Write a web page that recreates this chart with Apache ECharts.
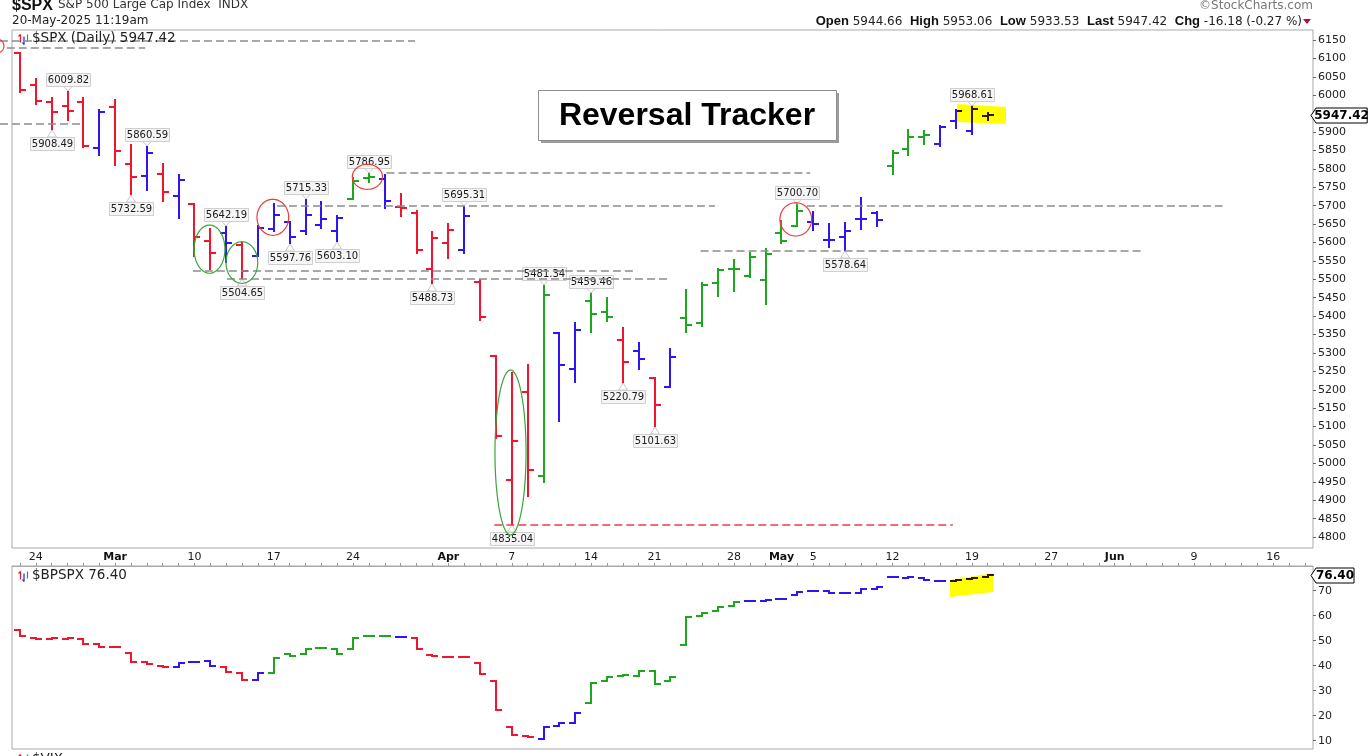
<!DOCTYPE html>
<html>
<head>
<meta charset="utf-8">
<title>Reversal Tracker</title>
<script src="https://cdn.jsdelivr.net/npm/echarts@6/dist/echarts.min.js"></script>
<style>
html,body{margin:0;padding:0;background:#fff;}
#chart{width:1371px;height:756px;}
</style>
</head>
<body>
<div id="chart"></div>
<script>
// ---------------- data ----------------
const dates = [
 '2025-02-21','2025-02-24','2025-02-25','2025-02-26','2025-02-27','2025-02-28',
 '2025-03-03','2025-03-04','2025-03-05','2025-03-06','2025-03-07',
 '2025-03-10','2025-03-11','2025-03-12','2025-03-13','2025-03-14',
 '2025-03-17','2025-03-18','2025-03-19','2025-03-20','2025-03-21',
 '2025-03-24','2025-03-25','2025-03-26','2025-03-27','2025-03-28','2025-03-31',
 '2025-04-01','2025-04-02','2025-04-03','2025-04-04',
 '2025-04-07','2025-04-08','2025-04-09','2025-04-10','2025-04-11',
 '2025-04-14','2025-04-15','2025-04-16','2025-04-17',
 '2025-04-21','2025-04-22','2025-04-23','2025-04-24','2025-04-25',
 '2025-04-28','2025-04-29','2025-04-30','2025-05-01','2025-05-02',
 '2025-05-05','2025-05-06','2025-05-07','2025-05-08','2025-05-09',
 '2025-05-12','2025-05-13','2025-05-14','2025-05-15','2025-05-16',
 '2025-05-19','2025-05-20','2025-05-21','2025-05-22','2025-05-23',
 '2025-05-27','2025-05-28','2025-05-29','2025-05-30',
 '2025-06-02','2025-06-03','2025-06-04','2025-06-05','2025-06-06',
 '2025-06-09','2025-06-10','2025-06-11','2025-06-12','2025-06-13',
 '2025-06-16','2025-06-17','2025-06-18'
];
const tickDates  = ['2025-02-24','2025-03-03','2025-03-10','2025-03-17','2025-03-24','2025-04-01','2025-04-07','2025-04-14','2025-04-21','2025-04-28','2025-05-01','2025-05-05','2025-05-12','2025-05-19','2025-05-27','2025-06-02','2025-06-09','2025-06-16'];
const tickLabels = ['24','Mar','10','17','24','Apr','7','14','21','28','May','5','12','19','27','Jun','9','16'];

const spxTicksY = [4800,4850,4900,4950,5000,5050,5100,5150,5200,5250,5300,5350,5400,5450,5500,5550,5600,5650,5700,5750,5800,5850,5900,6000,6050,6100,6150];
const bpTicksY = [10,20,30,40,50,60,70];

const spxOpen  = [6114.10,6026.69,5982.73,5970.87,5981.88,5856.74,5968.33,5811.98,5781.44,5785.87,5726.01,5705.37,5603.65,5624.84,5594.45,5563.85,5635.60,5654.53,5632.37,5646.92,5630.73,5718.08,5775.59,5771.66,5695.64,5679.88,5527.91,5597.53,5580.76,5492.74,5292.14,4953.79,5193.57,4965.28,5353.15,5255.56,5441.96,5411.99,5335.75,5305.45,5232.94,5207.67,5395.92,5381.38,5489.73,5529.22,5508.87,5499.44,5625.14,5645.94,5655.32,5606.91,5614.60,5663.94,5679.50,5807.20,5854.66,5886.55,5868.00,5930.41,5902.88,5944.66];
const spxHigh  = [6114.82,6043.65,5992.65,6009.82,5993.69,5959.40,5986.09,5865.08,5860.59,5812.08,5783.01,5705.37,5636.30,5642.19,5597.78,5645.27,5703.52,5654.53,5715.33,5711.15,5670.84,5775.14,5786.95,5783.62,5732.28,5685.89,5627.56,5650.57,5695.31,5499.53,5292.14,5246.59,5267.47,5481.34,5353.15,5381.46,5459.46,5450.41,5367.24,5328.31,5232.94,5309.60,5469.69,5489.40,5528.11,5553.66,5571.95,5581.84,5658.91,5700.70,5683.37,5649.62,5653.20,5720.10,5683.60,5847.36,5906.63,5904.08,5917.00,5958.62,5968.61,5953.06];
const spxLow   = [6008.56,5977.43,5908.49,5932.69,5858.78,5837.66,5810.91,5732.59,5742.35,5711.64,5666.29,5564.02,5528.41,5546.09,5504.65,5563.85,5631.12,5597.76,5622.20,5640.47,5603.10,5718.08,5764.05,5694.41,5670.94,5572.42,5488.73,5558.52,5571.48,5390.83,5069.90,4835.04,4910.42,4948.43,5115.27,5220.77,5358.02,5386.44,5220.79,5255.58,5101.63,5207.67,5356.16,5371.96,5455.86,5468.64,5505.70,5433.24,5597.35,5644.64,5634.48,5587.62,5578.64,5635.95,5645.02,5786.08,5836.35,5868.08,5862.00,5909.93,5895.69,5933.53];
const spxClose = [6013.13,5983.25,5955.25,5956.06,5861.57,5954.50,5849.72,5778.15,5842.63,5738.52,5770.20,5614.56,5572.07,5599.30,5521.52,5638.94,5675.12,5614.66,5675.29,5662.89,5667.56,5767.57,5776.65,5712.20,5693.31,5580.94,5611.85,5633.07,5670.97,5396.52,5074.08,5062.25,4982.77,5456.90,5268.05,5363.36,5405.97,5396.63,5275.70,5282.70,5158.20,5287.76,5375.86,5484.77,5525.21,5528.75,5560.83,5569.06,5604.14,5686.67,5650.38,5606.91,5631.28,5663.94,5659.91,5844.19,5886.55,5892.58,5914.00,5958.38,5963.60,5947.42];
const spxColor = 'rrrrrbrrbrbrrbrbbbbbbggbrrrrbrrrrgbbggrbrbggggggggbbbbbgggbbbb'.split('');

const bpOpen  = [54.3,51.1,50.6,50.8,50.7,48.5,47.6,45.2,41.6,39.9,39.5,41.5,42.0,39.6,37.2,34.3,37.2,44.6,44.7,46.9,46.8,46.8,51.9,51.9,51.5,51.1,44.4,43.3,43.3,41.0,34.0,15.6,11.9,10.6,15.9,17.2,25.2,34.0,35.9,35.9,38.0,34.0,48.3,59.9,62.0,63.9,66.0,66.0,66.6,68.3,70.0,69.9,69.0,69.2,70.7,75.3,75.0,75.0,73.9,73.9,74.6,75.3];
const bpClose = [51.9,50.7,50.9,51.1,48.5,47.6,47.3,41.6,40.7,39.5,41.2,41.6,39.9,37.4,34.3,37.2,43.0,43.9,46.7,46.9,44.7,51.0,51.9,52.0,51.4,46.8,43.8,43.3,43.3,36.7,22.3,12.3,11.4,15.4,17.0,21.0,33.0,35.6,36.4,38.0,32.7,35.6,59.4,61.2,63.6,65.6,66.0,66.3,66.6,69.6,70.0,69.2,69.0,70.5,71.4,75.6,75.3,74.3,73.9,74.3,75.2,76.40];
const bpColor = 'rrrrrrrrrrbbbrrbggggggggbrrrrrrrrbbbggggggggggbbbbbbbbbbbbbbbb'.split('');

const swingHighDates  = ['2025-02-26','2025-03-05','2025-03-12','2025-03-19','2025-03-25','2025-04-02','2025-04-09','2025-04-14','2025-05-02','2025-05-19'];
const swingHighValues = [6009.82,5860.59,5642.19,5715.33,5786.95,5695.31,5481.34,5459.46,5700.70,5968.61];
const swingLowDates   = ['2025-02-25','2025-03-04','2025-03-13','2025-03-18','2025-03-21','2025-03-31','2025-04-07','2025-04-16','2025-04-21','2025-05-07'];
const swingLowValues  = [5908.49,5732.59,5504.65,5597.76,5603.10,5488.73,4835.04,5220.79,5101.63,5578.64];

// annotation levels (category index from, to, price, kind)
const dashLines = [
  [-1.26, 24.9, 6147.4, 'g'],
  [-0.83, 7.9, 6127.5, 'g'],
  [-1.26, 3.9, 5921.0, 'g'],
  [23.1, 49.8, 5789.0, 'g'],
  [16.2, 43.8, 5700.0, 'g'],
  [49.6, 75.8, 5700.0, 'g'],
  [42.9, 70.8, 5577.0, 'g'],
  [10.9, 38.9, 5523.0, 'g'],
  [13.05, 40.8, 5501.0, 'g'],
  [29.9, 58.8, 4834.0, 'r']
];
// ellipses: center index, center price, half width (index), half height (price), kind
const ellipses = [
  [-1.45, 6133.7, 0.44, 19.0, 'r'],
  [15.94, 5668.5, 1.0, 48.9, 'r'],
  [21.9, 5778.5, 0.95, 34.0, 'r'],
  [48.9, 5662.9, 1.0, 45.2, 'r'],
  [11.95, 5582.0, 0.97, 65.5, 'g'],
  [13.99, 5545.7, 1.0, 56.5, 'g'],
  [30.92, 5029.7, 0.98, 224.0, 'g']
];
// highlighter strokes: top-left, top-right, bottom-right, bottom-left (index, value)
const spxHighlight = [[59.06, 5976.2], [62.15, 5968.0], [62.15, 5921.9], [59.06, 5927.3]];
const bpHighlight  = [[58.62, 74.3], [61.33, 77.1], [61.33, 69.5], [58.62, 67.5]];

// ---------------- styles ----------------
const COLORS = { r: '#f2142c', b: '#2e16f0', g: '#1ea61e' };
const FONT = '"DejaVu Sans", Verdana, sans-serif';
const ARIAL = '"Liberation Sans", Arial, sans-serif';

const chart = echarts.init(document.getElementById('chart'), null, { renderer: 'canvas' });

function toPx(api, k, v) {
  const base = api.coord([0, v]);
  const bw = api.size([1, 0])[0];
  return [base[0] + k * bw, base[1]];
}
// colour of a stroke seen through a yellow highlighter (multiply)
function underYellow(hex) {
  const r = parseInt(hex.slice(1, 3), 16), g = parseInt(hex.slice(3, 5), 16);
  return 'rgb(' + r + ',' + g + ',0)';
}
function bandAt(hp, x) {
  if (x < hp[0][0] || x > hp[1][0]) return null;
  const t = (x - hp[0][0]) / (hp[1][0] - hp[0][0]);
  return [hp[0][1] + t * (hp[1][1] - hp[0][1]), hp[3][1] + t * (hp[2][1] - hp[3][1])];
}
function overlayLines(hp, segs, color) {
  const out = [];
  segs.forEach(s => {
    if (s.x1 === s.x2) {
      const b = bandAt(hp, s.x1);
      if (!b) return;
      const ya = Math.max(Math.min(s.y1, s.y2), b[0]);
      const yb = Math.min(Math.max(s.y1, s.y2), b[1]);
      if (yb > ya) out.push({ x1: s.x1, y1: ya, x2: s.x1, y2: yb });
    } else {
      const xa = Math.max(Math.min(s.x1, s.x2), hp[0][0]);
      const xb = Math.min(Math.max(s.x1, s.x2), hp[1][0]);
      if (xb <= xa) return;
      const b = bandAt(hp, (xa + xb) / 2);
      if (b && s.y1 >= b[0] && s.y1 <= b[1]) out.push({ x1: xa, y1: s.y1, x2: xb, y2: s.y1 });
    }
  });
  return out.map(sh => ({ type: 'line', shape: sh, style: { stroke: color, lineWidth: 2 } }));
}

function barGroup(api, x, yTop, yBot, yo, yc, color, hlPts) {
  const w = 6;
  const segs = [
    { x1: x, y1: yTop - 1, x2: x, y2: yBot + 1 },
    { x1: x - w, y1: yo, x2: x, y2: yo },
    { x1: x, y1: yc, x2: x + w, y2: yc }
  ];
  const children = segs.map(s => ({ type: 'line', shape: s, style: { stroke: color, lineWidth: 2 } }));
  const hp = hlPts.map(p => toPx(api, p[0], p[1]));
  return { type: 'group', children: children.concat(overlayLines(hp, segs, underYellow(color))) };
}

function renderOHLC(params, api) {
  const i = api.value(0);
  const o = api.coord([i, api.value(1)]);
  const h = api.coord([i, api.value(2)]);
  const l = api.coord([i, api.value(3)]);
  const c = api.coord([i, api.value(4)]);
  const x = Math.round(o[0]);
  return barGroup(api, x, Math.round(h[1]), Math.round(l[1]), Math.round(o[1]), Math.round(c[1]), api.visual('color'), spxHighlight);
}

function renderStep(params, api) {
  const i = api.value(0);
  const o = api.coord([i, api.value(1)]);
  const c = api.coord([i, api.value(2)]);
  const x = Math.round(o[0]);
  const yo = Math.round(o[1]), yc = Math.round(c[1]);
  return barGroup(api, x, Math.min(yo, yc), Math.max(yo, yc), yo, yc, api.visual('color'), bpHighlight);
}

function renderSwing(params, api) {
  const val = api.value(1);
  const p = api.coord([api.value(0), val]);
  const dir = api.value(2);
  const x = Math.round(p[0]);
  const w = 44, h = 13;
  const py = Math.round(p[1]);
  const y0 = dir > 0 ? py - 6 - h : py + 8;
  const tipY = dir > 0 ? py - 1 : py + 1;
  const baseY = dir > 0 ? y0 + h : y0;
  return { type: 'group', children: [
    { type: 'polygon', shape: { points: [[x - 4.5, baseY], [x, tipY], [x + 4.5, baseY]] }, style: { fill: '#ffffff', stroke: '#c8c8c8', lineWidth: 1 } },
    { type: 'rect', shape: { x: x - w / 2 + 0.5, y: y0 + 0.5, width: w, height: h }, style: { fill: '#f5f5f5', stroke: '#cfcfcf', lineWidth: 1 } },
    { type: 'text', x: x + 0.5, y: y0 + h / 2 + 1, style: { text: val.toFixed(2), align: 'center', verticalAlign: 'middle', fontSize: 10, fontFamily: FONT, fill: '#1a1a1a' } }
  ]};
}

function ellipsePoints(api, e) {
  const c = toPx(api, e[0], e[1]);
  const r = toPx(api, e[0] + e[2], e[1] - e[3]);
  const rx = r[0] - c[0], ry = r[1] - c[1];
  const pts = [];
  for (let t = 0; t < 72; t++) {
    const a = t / 72 * Math.PI * 2;
    pts.push([c[0] + rx * Math.cos(a), c[1] + ry * Math.sin(a)]);
  }
  return pts;
}

function renderAnnot(params, api) {
  const children = [];
  dashLines.forEach(d => {
    const a = toPx(api, d[0], d[2]);
    const b = toPx(api, d[1], d[2]);
    const y = Math.round(a[1]);
    children.push({ type: 'line', shape: { x1: a[0], y1: y, x2: b[0], y2: y },
      style: { stroke: d[3] === 'r' ? '#e8404a' : '#8c8c8c', lineWidth: 1.5, lineDash: [8, 4] } });
  });
  ellipses.forEach(e => {
    children.push({ type: 'polygon', shape: { points: ellipsePoints(api, e) },
      style: { fill: null, stroke: e[4] === 'r' ? '#ee3a3a' : '#3aa53a', lineWidth: 1.2 } });
  });
  return { type: 'group', children };
}

function renderHighlight(pts) {
  return function (params, api) {
    return { type: 'polygon', shape: { points: pts.map(p => toPx(api, p[0], p[1])) },
      style: { fill: '#ffff00' } };
  };
}

function renderTag(params, api) {
  const val = api.value(1);
  const p = api.coord([api.value(0), val]);
  const cs = params.coordSys;
  const xs = cs.x + cs.width;
  const y = Math.round(p[1]) + 0.5;
  const txt = val.toFixed(2);
  const w = txt.length * 6.6 + 5, hh = 7.5;
  return { type: 'group', children: [
    { type: 'polygon', shape: { points: [[xs - 2, y], [xs + 3, y - hh], [xs + 3 + w, y - hh], [xs + 3 + w, y + hh], [xs + 3, y + hh]] },
      style: { fill: '#ffffff', stroke: '#000000', lineWidth: 1 } },
    { type: 'text', x: xs + 3 + w / 2, y: y + 0.5, style: { text: txt, align: 'center', verticalAlign: 'middle', fontSize: 12, fontWeight: 'bold', fontFamily: FONT, fill: '#000' } }
  ]};
}

const spxData = spxOpen.map((o, i) => ({ value: [dates[i], o, spxHigh[i], spxLow[i], spxClose[i]], itemStyle: { color: COLORS[spxColor[i]] } }));
const bpData = bpOpen.map((o, i) => ({ value: [dates[i], o, bpClose[i]], itemStyle: { color: COLORS[bpColor[i]] } }));
const swingData = swingHighDates.map((d, i) => [d, swingHighValues[i], 1])
  .concat(swingLowDates.map((d, i) => [d, swingLowValues[i], -1]));
const lastIdx = spxClose.length - 1;

const plainNum = v => String(v);

const legendIcon = (top) => ({ type: 'group', left: 16, top: top, z: 10, children: [
  { type: 'line', shape: { x1: 2, y1: 2, x2: 2, y2: 10 }, style: { stroke: COLORS.r, lineWidth: 1.2 } },
  { type: 'line', shape: { x1: 0, y1: 4, x2: 2, y2: 2 }, style: { stroke: COLORS.r, lineWidth: 1.2 } },
  { type: 'line', shape: { x1: 5.5, y1: 4, x2: 5.5, y2: 12 }, style: { stroke: COLORS.b, lineWidth: 1.2 } },
  { type: 'line', shape: { x1: 4, y1: 10, x2: 5.5, y2: 12 }, style: { stroke: COLORS.b, lineWidth: 1.2 } },
  { type: 'line', shape: { x1: 9, y1: 2, x2: 9, y2: 9 }, style: { stroke: COLORS.g, lineWidth: 1.2 } }
] });

const option = {
  backgroundColor: '#ffffff',
  animation: false,
  grid: [
    { left: 12, right: 58, top: 30, height: 518, show: true, borderColor: '#a9a9a9', borderWidth: 1, backgroundColor: 'transparent' },
    { left: 12, right: 58, top: 566, height: 183, show: true, borderColor: '#a9a9a9', borderWidth: 1, backgroundColor: 'transparent' }
  ],
  xAxis: [
    { type: 'category', gridIndex: 0, data: dates, boundaryGap: true,
      axisLine: { show: false }, axisTick: { show: false }, axisLabel: { show: false }, splitLine: { show: false } },
    { type: 'category', gridIndex: 1, data: dates, boundaryGap: true, position: 'top',
      axisLine: { show: true, lineStyle: { color: '#a9a9a9' } },
      axisTick: { show: true, interval: 0, alignWithLabel: true, length: 3, lineStyle: { color: '#9a9a9a' } },
      axisLabel: {
        show: true, margin: 3, color: '#1a1a1a', fontSize: 11, fontFamily: FONT,
        interval: (idx, val) => tickDates.indexOf(val) >= 0,
        formatter: (val) => {
          const t = tickLabels[tickDates.indexOf(val)];
          return /[A-Za-z]/.test(t) ? '{m|' + t + '}' : t;
        },
        rich: { m: { fontWeight: 'bold', fontSize: 11, fontFamily: FONT, color: '#111' } }
      },
      splitLine: { show: false } }
  ],
  yAxis: [
    { type: 'value', gridIndex: 0, position: 'right', min: 4770.3, max: 6177.2, scale: true,
      axisLine: { show: false }, splitLine: { show: false },
      axisTick: { show: true, length: 3, customValues: spxTicksY, lineStyle: { color: '#666' } },
      axisLabel: { show: true, margin: 5, customValues: spxTicksY, formatter: plainNum, color: '#222', fontSize: 11, fontFamily: FONT } },
    { type: 'value', gridIndex: 1, position: 'right', min: 6.68, max: 79.88, scale: true,
      axisLine: { show: false }, splitLine: { show: false },
      axisTick: { show: true, length: 3, customValues: bpTicksY, lineStyle: { color: '#666' } },
      axisLabel: { show: true, margin: 5, customValues: bpTicksY, formatter: plainNum, color: '#222', fontSize: 11, fontFamily: FONT } }
  ],
  series: [
    { type: 'custom', name: 'hl1', xAxisIndex: 0, yAxisIndex: 0, data: [[dates[0], 5500]], renderItem: renderHighlight(spxHighlight), z: 1, silent: true },
    { type: 'custom', name: 'swing', xAxisIndex: 0, yAxisIndex: 0, data: swingData, renderItem: renderSwing, z: 2, silent: true },
    { type: 'custom', name: '$SPX', xAxisIndex: 0, yAxisIndex: 0, data: spxData, renderItem: renderOHLC,
      encode: { x: 0, y: [1, 2, 3, 4] }, z: 3, silent: true },
    { type: 'custom', name: 'annot', xAxisIndex: 0, yAxisIndex: 0, data: [[dates[0], 5500]], renderItem: renderAnnot, z: 4, silent: true },
    { type: 'custom', name: 'tag1', xAxisIndex: 0, yAxisIndex: 0, data: [[dates[lastIdx], spxClose[lastIdx]]], renderItem: renderTag, z: 7, silent: true },
    { type: 'custom', name: 'hl2', xAxisIndex: 1, yAxisIndex: 1, data: [[dates[0], 50]], renderItem: renderHighlight(bpHighlight), z: 1, silent: true },
    { type: 'custom', name: '$BPSPX', xAxisIndex: 1, yAxisIndex: 1, data: bpData, renderItem: renderStep,
      encode: { x: 0, y: [1, 2] }, z: 3, silent: true },
    { type: 'custom', name: 'tag2', xAxisIndex: 1, yAxisIndex: 1, data: [[dates[lastIdx], bpClose[lastIdx]]], renderItem: renderTag, z: 7, silent: true }
  ],
  graphic: [
    { type: 'text', left: 12, top: -2, z: 10, style: { text: '$SPX', fontSize: 16, fontWeight: 'bold', fontFamily: ARIAL, fill: '#111' } },
    { type: 'text', left: 58, top: -1, z: 10, style: { text: 'S&P 500 Large Cap Index  INDX', fontSize: 12, fontFamily: FONT, fill: '#333' } },
    { type: 'text', left: 12, top: 15, z: 10, style: { text: '20-May-2025 11:19am', fontSize: 12, fontFamily: FONT, fill: '#222' } },
    { type: 'text', right: 1371 - 1302, top: 15, z: 10, style: {
        text: '{b|Open} 5944.66  {b|High} 5953.06  {b|Low} 5933.53  {b|Last} 5947.42  {b|Chg} -16.18 (-0.27 %)',
        fontSize: 12, fontFamily: FONT, fill: '#222',
        rich: { b: { fontSize: 13, fontWeight: 'bold', fontFamily: ARIAL, fill: '#111' } } } },
    { type: 'polygon', z: 10, shape: { points: [[1303, 19], [1311, 19], [1307, 24]] }, style: { fill: '#b0103a' } },
    { type: 'text', right: 1371 - 1313, top: 0, z: 10, style: { text: '\u00A9StockCharts.com', fontSize: 12, fontFamily: FONT, fill: '#777' } },
    legendIcon(32),
    { type: 'text', left: 32, top: 31, z: 10, style: { text: '$SPX (Daily) 5947.42', fontSize: 13.5, fontFamily: FONT, fill: '#222' } },
    legendIcon(569),
    { type: 'text', left: 32, top: 568, z: 10, style: { text: '$BPSPX 76.40', fontSize: 13.5, fontFamily: FONT, fill: '#222' } },
    legendIcon(752),
    { type: 'text', left: 32, top: 752, z: 10, style: { text: '$VIX', fontSize: 13.5, fontFamily: FONT, fill: '#222' } },
    // title box
    { type: 'group', left: 538, top: 90, z: 12, children: [
      { type: 'rect', shape: { x: 3, y: 3, width: 298, height: 50 }, style: { fill: '#9c9c9c' } },
      { type: 'rect', shape: { x: 0.5, y: 0.5, width: 298, height: 50 }, style: { fill: '#ffffff', stroke: '#8e8e8e', lineWidth: 1 } },
      { type: 'text', x: 149, y: 26, style: { text: 'Reversal Tracker', align: 'center', verticalAlign: 'middle', fontSize: 32, fontWeight: 'bold', fontFamily: ARIAL, fill: '#000' } }
    ] }
  ]
};
chart.setOption(option);
</script>
</body>
</html>
